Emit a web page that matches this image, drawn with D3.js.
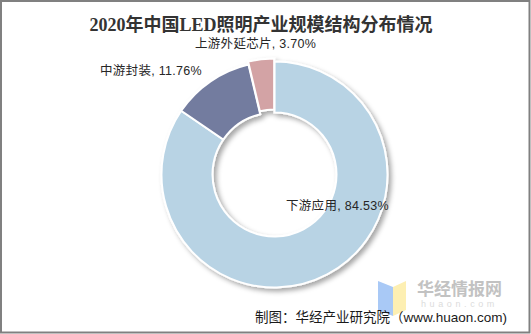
<!DOCTYPE html>
<html>
<head>
<meta charset="utf-8">
<script src="https://cdn.jsdelivr.net/npm/d3@7/dist/d3.min.js"></script>
<style>
  html, body { margin: 0; padding: 0; background: #fff; }
  svg { display: block; }
</style>
</head>
<body>
<script>
// Share of China's LED lighting industry in 2020 by segment (%)
const categories = ["下游应用", "中游封装", "上游外延芯片"];
const values = [84.53, 11.76, 3.70];
const colors = ["#b8d3e4", "#737c9f", "#d3a3a5"];
const explode = [0, 0, 3];

// label anchor positions (start x, baseline y)
const labelPos = [[286, 210], [100, 75], [195, 48]];

const W = 531, H = 334;
const cx = 274.5, cy = 174.5, rOuter = 113, rInner = 62;

const svg = d3.select("body").append("svg")
  .attr("width", W).attr("height", H);

const defs = svg.append("defs");
const f = defs.append("filter").attr("id", "shadow")
  .attr("x", "-20%").attr("y", "-20%").attr("width", "140%").attr("height", "140%");
f.append("feDropShadow")
  .attr("dx", 3).attr("dy", 3).attr("stdDeviation", 2.5)
  .attr("flood-color", "#000").attr("flood-opacity", 0.35);

svg.append("rect").attr("width", W).attr("height", H).attr("fill", "#fff");

// title
svg.append("text")
  .attr("x", 261).attr("y", 31)
  .attr("text-anchor", "middle")
  .attr("font-family", "'Liberation Serif', 'Noto Sans CJK SC', serif")
  .attr("font-weight", "bold")
  .attr("font-size", 18)
  .attr("fill", "#333")
  .text("2020年中国LED照明产业规模结构分布情况");

const pie = d3.pie().sort(null).value(d => d)
  .startAngle(0).endAngle(2 * Math.PI);
const arc = d3.arc().innerRadius(rInner).outerRadius(rOuter);
const arcs = pie(values);

const g = svg.append("g")
  .attr("transform", `translate(${cx},${cy})`)
  .attr("filter", "url(#shadow)");

g.selectAll("path").data(arcs).join("path")
  .attr("d", arc)
  .attr("transform", (d, i) => {
    const a = (d.startAngle + d.endAngle) / 2;
    return `translate(${Math.sin(a) * explode[i]},${-Math.cos(a) * explode[i]})`;
  })
  .attr("fill", (d, i) => colors[i])
  .attr("stroke", "#fff")
  .attr("stroke-width", 2)
  .attr("stroke-linejoin", "miter");

// slice labels
svg.selectAll("text.lbl").data(arcs).join("text")
  .attr("class", "lbl")
  .attr("x", (d, i) => labelPos[i][0])
  .attr("y", (d, i) => labelPos[i][1])
  .attr("font-family", "'Liberation Sans', 'Noto Sans CJK SC', sans-serif")
  .attr("font-size", 12.5)
  .attr("letter-spacing", 0.3)
  .attr("fill", "#262626")
  .text((d, i) => `${categories[i]}, ${values[i].toFixed(2)}%`);

// watermark logo
const logo = svg.append("g");
logo.append("path").attr("d", "M378,281 L393,287 L393,316 L378,310 Z").attr("fill", "#a9c9f6");
logo.append("path").attr("d", "M393,287 L406,281 L406,310 L393,316 Z").attr("fill", "#fdefb2");
svg.append("text")
  .attr("x", 417).attr("y", 295)
  .attr("font-family", "'Noto Sans CJK SC', sans-serif")
  .attr("font-weight", "bold")
  .attr("font-size", 17)
  .attr("fill", "#c2c2c2")
  .text("华经情报网");
svg.append("text")
  .attr("x", 421).attr("y", 307)
  .attr("font-family", "'Liberation Sans', sans-serif")
  .attr("font-size", 9)
  .attr("letter-spacing", 3.6)
  .attr("fill", "#dcdcdc")
  .text("huaon.com");

// source note
svg.append("text")
  .attr("x", 255).attr("y", 322)
  .attr("font-family", "'Liberation Sans', 'Noto Sans CJK SC', sans-serif")
  .attr("font-size", 13.5)
  .attr("fill", "#1a1a1a")
  .text("制图：华经产业研究院（www.huaon.com)");

// outer frame
svg.append("rect")
  .attr("x", 1).attr("y", 1).attr("width", W - 2.5).attr("height", H - 2.5)
  .attr("fill", "none").attr("stroke", "#808080").attr("stroke-width", 2);
</script>
</body>
</html>
